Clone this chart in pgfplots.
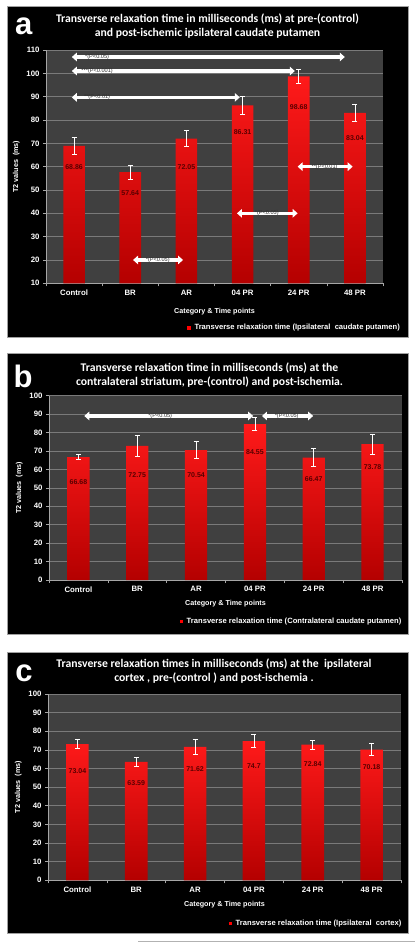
\documentclass[border=0pt]{standalone}
\usepackage{fontspec}
\setmainfont{Liberation Sans}
\newfontfamily\titlefont{Carlito}
\usepackage{pgfplots}
\usepackage{pgfplotstable}
\pgfplotsset{compat=1.18}
\usetikzlibrary{arrows.meta}
\definecolor{plotbg}{HTML}{404040}
\definecolor{gridc}{HTML}{7A7A7A}
\definecolor{barTop}{HTML}{FF1A1A}
\definecolor{barBot}{HTML}{B40000}
\definecolor{vallab}{HTML}{5A0000}
\definecolor{arrtext}{HTML}{303030}
\definecolor{boxline}{HTML}{A0A0A0}

\pgfplotstableread{
x y e
0 68.86 3.5
1 57.64 2.9
2 72.05 3.5
3 86.31 3.9
4 98.68 3.1
5 83.04 3.5
}\dataA
\pgfplotstableread{
x y e
0 66.68 1.5
1 72.75 5.8
2 70.54 4.7
3 84.55 3.5
4 66.47 4.8
5 73.78 5.4
}\dataB
\pgfplotstableread{
x y e
0 73.04 2.4
1 63.59 2.6
2 71.62 3.8
3 74.7 3.5
4 72.84 2.5
5 70.18 3.4
}\dataC

\pgfplotsset{
  panel/.style={
    scale only axis, anchor=south west,
    xmin=-0.5, xmax=5.5,
    xtick={0,...,5}, xticklabels={Control,BR,AR,04 PR,24 PR,48 PR},
    minor xtick={-0.5,0.5,...,5.5},
    axis background/.style={fill=plotbg},
    ymajorgrids, major grid style={gridc, line width=0.6pt},
    axis x line*=bottom, axis y line*=left,
    axis line style={-, gray!70, line width=0.6pt},
    tick align=outside,
    major x tick style={draw=none},
    minor x tick style={gray!70, line width=0.6pt}, minor tick length=3pt,
    major y tick style={gray!70, line width=0.6pt}, major tick length=3pt,
    ticklabel style={font=\fontsize{7.8}{9}\selectfont\bfseries, text=white},
    /pgf/number format/assume math mode=true,
    label style={font=\fontsize{7.2}{8}\selectfont\bfseries, text=white},
    ylabel={T2 values\ \ (ms)},
    xlabel={Category \& Time points},
    clip=false,
  },
  bars/.style={ybar, bar width=#1, draw=none, top color=barTop, bottom color=barBot},
  errs/.style={only marks, mark=text, text mark={}, white, line width=0.8pt,
    error bars/.cd, y dir=both, y explicit, error mark=|,
    error bar style={white, line width=0.8pt},
    error mark options={white, line width=0.8pt, mark size=2.5pt}},
}
\tikzset{
  vlab/.style={font=\fontsize{7}{8}\selectfont\bfseries, text=vallab},
  sigarrow/.style={white, line width=3.4pt, {Triangle[length=5pt,width=8.5pt]}-{Triangle[length=5pt,width=8.5pt]}},
  sigtext/.style={font=\fontsize{5.6}{6}\selectfont, text=arrtext, inner sep=0pt},
  ttl/.style={font=\titlefont\fontsize{11.7}{14}\selectfont\bfseries, text=white, align=center},
  leg/.style={font=\fontsize{7.6}{8}\selectfont\bfseries, text=white, anchor=east, inner sep=0pt},
  letter/.style={font=\fontsize{31}{31}\selectfont\bfseries, text=white, anchor=base west, inner sep=0pt},
}

\begin{document}
\begin{tikzpicture}
\fill[white] (0pt,0pt) rectangle (415pt,-942pt);
\filldraw[fill=black, draw=boxline, line width=0.6pt] (7pt,-6pt) rectangle (408pt,-337pt);
\filldraw[fill=black, draw=boxline, line width=0.6pt] (7pt,-353pt) rectangle (408pt,-634pt);
\filldraw[fill=black, draw=boxline, line width=0.6pt] (7pt,-652pt) rectangle (408pt,-933pt);
\draw[gray!60, line width=0.6pt] (138pt,-941.5pt) -- (415pt,-941.5pt);

% ---------------- panel a
\begin{axis}[panel, at={(46pt,-283.3pt)}, width=337pt, height=233.3pt,
  ymin=10, ymax=110, ytick={10,20,...,110}, xlabel style={yshift=-6pt}]
\addplot[bars=21.6pt] table[x=x,y=y] {\dataA};
\addplot[errs] table[x=x,y=y,y error=e] {\dataA};
\node[vlab] at (axis cs:0,60) {68.86};
\node[vlab] at (axis cs:1,48.6) {57.64};
\node[vlab] at (axis cs:2,60) {72.05};
\node[vlab] at (axis cs:3,75) {86.31};
\node[vlab] at (axis cs:4,85.4) {98.68};
\node[vlab] at (axis cs:5,72.4) {83.04};
\draw[sigarrow] (axis cs:-0.04,107) -- (axis cs:4.82,107);
\node[sigtext] at (axis cs:0.41,107) {*(P<0.05)};
\draw[sigarrow] (axis cs:-0.04,101) -- (axis cs:3.93,101);
\node[sigtext] at (axis cs:0.41,101) {***(P<0.001)};
\draw[sigarrow] (axis cs:-0.04,89.7) -- (axis cs:2.95,89.7);
\node[sigtext] at (axis cs:0.41,89.7) {**(P<0.01)};
\draw[sigarrow] (axis cs:1.05,20) -- (axis cs:1.94,20);
\node[sigtext] at (axis cs:1.49,20) {*(P<0.05)};
\draw[sigarrow] (axis cs:2.9,40) -- (axis cs:3.98,40);
\node[sigtext] at (axis cs:3.43,40) {*(P<0.05)};
\draw[sigarrow] (axis cs:3.98,60) -- (axis cs:4.96,60);
\node[sigtext] at (axis cs:4.46,60) {**(P<0.01)};
\end{axis}

% ---------------- panel b
\begin{axis}[panel, at={(49pt,-580pt)}, width=353pt, height=184.3pt,
  ymin=0, ymax=100, ytick={0,10,...,100}, xlabel style={yshift=-1.5pt}]
\addplot[bars=22.3pt] table[x=x,y=y] {\dataB};
\addplot[errs] table[x=x,y=y,y error=e] {\dataB};
\node[vlab] at (axis cs:0,53.3) {66.68};
\node[vlab] at (axis cs:1,57.1) {72.75};
\node[vlab] at (axis cs:2,57.1) {70.54};
\node[vlab] at (axis cs:3,69.3) {84.55};
\node[vlab] at (axis cs:4,54.8) {66.47};
\node[vlab] at (axis cs:5,61.5) {73.78};
\draw[sigarrow] (axis cs:0.1,89) -- (axis cs:2.97,89);
\node[sigtext] at (axis cs:1.39,89) {*(P<0.05)};
\draw[sigarrow] (axis cs:3.12,89) -- (axis cs:3.99,89);
\node[sigtext] at (axis cs:3.54,89) {*(P<0.05)};
\end{axis}

% ---------------- panel c
\begin{axis}[panel, at={(48pt,-880.3pt)}, width=353pt, height=186.3pt,
  ymin=0, ymax=100, ytick={0,10,...,100}, xlabel style={yshift=-1.5pt}]
\addplot[bars=22.6pt] table[x=x,y=y] {\dataC};
\addplot[errs] table[x=x,y=y,y error=e] {\dataC};
\node[vlab] at (axis cs:0,58.8) {73.04};
\node[vlab] at (axis cs:1,52.1) {63.59};
\node[vlab] at (axis cs:2,59.6) {71.62};
\node[vlab] at (axis cs:3,61.5) {74.7};
\node[vlab] at (axis cs:4,62.3) {72.84};
\node[vlab] at (axis cs:5,60.7) {70.18};
\end{axis}

% titles and letters
\node[letter] at (15pt,-35pt) {a};
\node[letter] at (13.3pt,-387.3pt) {b};
\node[letter] at (15.2pt,-681pt) {c};
\node[ttl] at (207.5pt,-26pt) {Transverse relaxation time in milliseconds (ms) at pre-(control)\\and post-ischemic ipsilateral caudate putamen};
\node[ttl] at (209.5pt,-375pt) {Transverse relaxation time in milliseconds (ms) at the\\contralateral striatum, pre-(control) and post-ischemia.};
\node[ttl] at (214pt,-671.5pt) {Transverse relaxation times in milliseconds (ms) at the\ \ ipsilateral\\cortex , pre-(control ) and post-ischemia .};

% legends
\node[leg] (la) at (400pt,-328pt) {Transverse relaxation time (Ipsilateral\ \ caudate putamen)};
\fill[red] ([xshift=-7pt,yshift=-1.75pt]la.west) rectangle ++(3.5pt,3.5pt);
\node[leg] (lb) at (401.5pt,-621.7pt) {Transverse relaxation time (Contralateral caudate putamen)};
\fill[red] ([xshift=-7pt,yshift=-1.75pt]lb.west) rectangle ++(3.5pt,3.5pt);
\node[leg] (lc) at (401.5pt,-923.7pt) {Transverse relaxation time (Ipsilateral\ \ cortex)};
\fill[red] ([xshift=-7pt,yshift=-1.75pt]lc.west) rectangle ++(3.5pt,3.5pt);
\end{tikzpicture}
\end{document}
